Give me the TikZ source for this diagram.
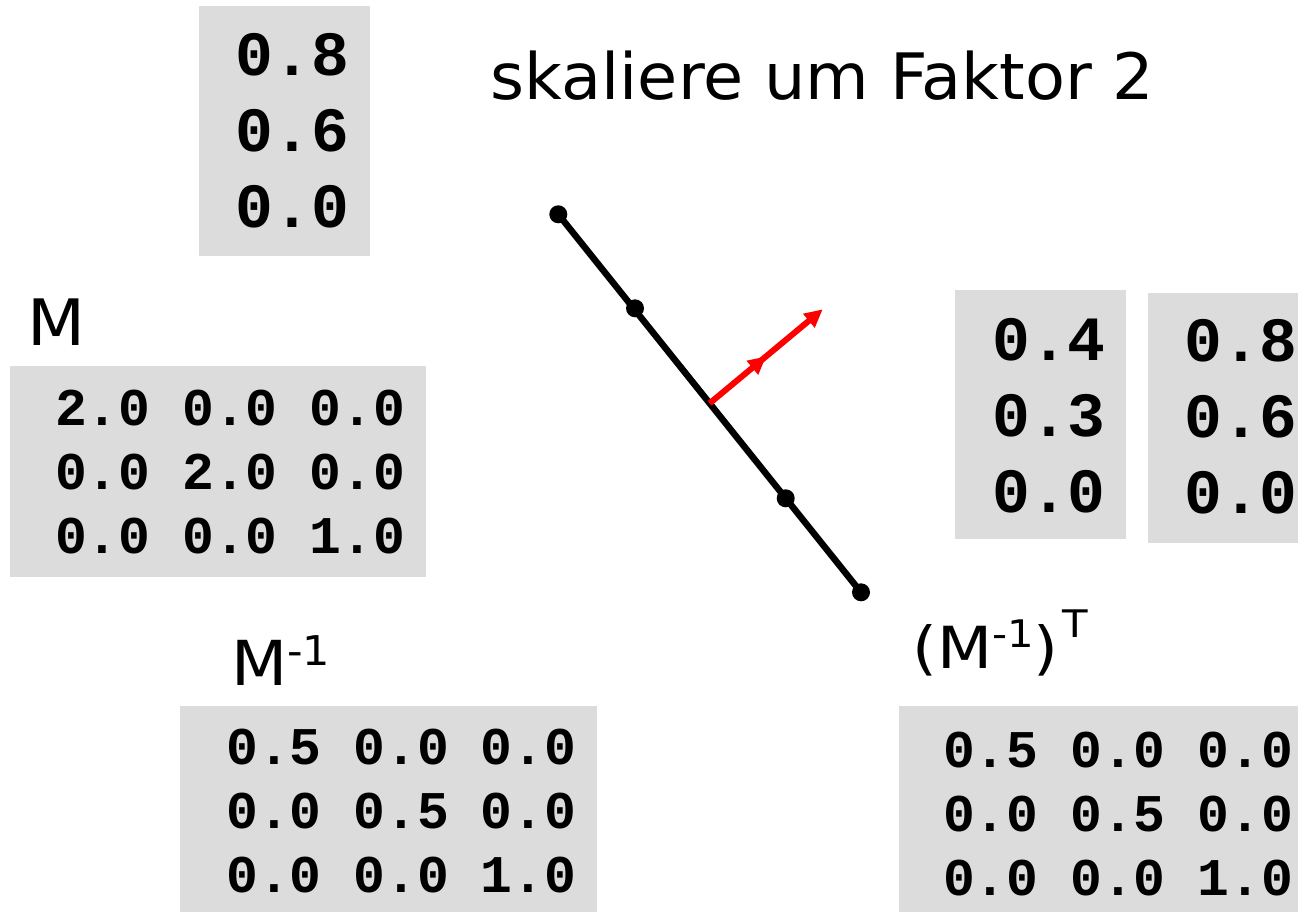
\documentclass[tikz,border=0pt]{standalone}
\usepackage{fontspec}
\setmainfont{DejaVu Sans}
\newfontfamily\labelfont{DejaVu Sans}[FakeStretch=1.05]
\newfontfamily\widelabelfont{DejaVu Sans}[FakeStretch=1.1]
\newfontfamily\titlefont{DejaVu Sans}[FakeStretch=1.02]
\setmonofont{Liberation Mono}
\usetikzlibrary{arrows.meta,decorations.markings,calc}
\definecolor{boxgray}{RGB}{220,220,220}
\definecolor{arrowred}{RGB}{255,0,0}

\begin{document}
\begin{tikzpicture}[x=1pt,y=-1pt,
  panel/.style={fill=boxgray, draw=none, inner sep=0pt, anchor=north west},
  vecnums/.style={font={\fontsize{63}{76}\selectfont\ttfamily\bfseries}, align=center, inner sep=0pt},
  matnums/.style={font={\fontsize{53}{64}\selectfont\ttfamily\bfseries}, align=left, inner sep=0pt},
  lbl/.style={inner sep=0pt, anchor=base west},
  vertex/.style={circle, fill=black, inner sep=0pt, minimum size=18pt},
  edge/.style={line width=6.5pt, black},
  normalvec/.style={line width=6pt, arrowred,
    -{Triangle[length=18pt,width=17pt]},
    postaction={decorate},
    decoration={markings, mark=at position 0.5 with {\arrow{Triangle[length=18pt,width=17pt]}}}}
]
\useasboundingbox (0,0) rectangle (1298,912);
\clip (0,0) rectangle (1298,912);

% grey panels
\node[panel, minimum width=171pt, minimum height=250pt] (ptop) at (199,6) {};
\node[panel, minimum width=171pt, minimum height=249pt] (pv1) at (955,290) {};
\node[panel, minimum width=160pt, minimum height=250pt] (pv2) at (1148,293) {};
\node[panel, minimum width=416pt, minimum height=211pt] (pM) at (10,366) {};
\node[panel, minimum width=417pt, minimum height=220pt] (pMinv) at (180,706) {};
\node[panel, minimum width=410pt, minimum height=220pt] (pMinvT) at (899,706) {};

% vectors
\node[vecnums] (vtop) at (292.5,130.5) {0.8\\0.6\\0.0};
\node[vecnums] (v1) at (1049,416) {0.4\\0.3\\0.0};
\node[vecnums] (v2) at (1241,417) {0.8\\0.6\\0.0};

% matrices
\node[matnums] (mM) at (230,471.7) {2.0 0.0 0.0\\0.0 2.0 0.0\\0.0 0.0 1.0};
\node[matnums] (mMinv) at (401.3,810.8) {0.5 0.0 0.0\\0.0 0.5 0.0\\0.0 0.0 1.0};
\node[matnums] (mMinvT) at (1118,814) {0.5 0.0 0.0\\0.0 0.5 0.0\\0.0 0.0 1.0};

% labels
\node[inner sep=0pt, anchor=base, font={\fontsize{64}{70}\selectfont\titlefont}] (title) at (822.5,100) {skaliere um Faktor 2};
\node[lbl, font={\fontsize{64}{70}\selectfont\labelfont}] (lM) at (27,345) {M};
\node[lbl, font={\fontsize{62}{66}\selectfont\labelfont}] (lMinv) at (231,685)
  {M\raisebox{20pt}{\fontsize{41}{42}\selectfont -1}};
\node[lbl, font={\fontsize{58}{62}\selectfont\widelabelfont}] (lMinvT) at (912,668)
  {(M\raisebox{21pt}{\fontsize{38}{40}\selectfont -1})\kern4pt\raisebox{31pt}{\fontsize{38}{40}\selectfont T}};

% line segment with its points
\node[vertex] (p1) at (558.3,214.3) {};
\node[vertex] (p2) at (635,308.3) {};
\node[vertex] (p3) at (785.7,498.3) {};
\node[vertex] (p4) at (861,592.3) {};
\draw[edge] (p1.center) -- (p4.center);

% normal vector
\coordinate (nbase) at ($(p1.center)!0.5!(p4.center)$);
\coordinate (ntip) at (822.7,309.3);
\draw[normalvec] (nbase) -- (ntip);
\end{tikzpicture}
\end{document}
